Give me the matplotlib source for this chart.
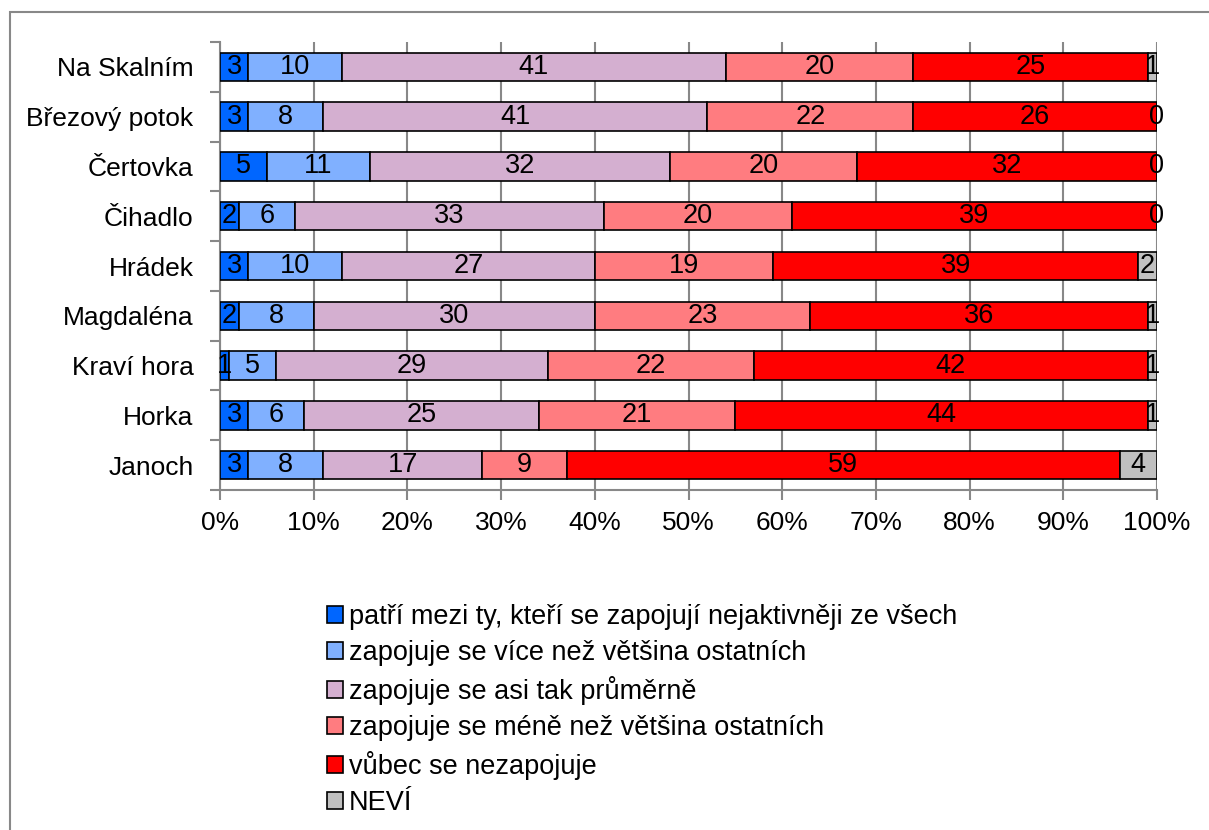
"""
Stacked 100 % bar chart of how actively each locality takes part.
"""
import numpy as np
import matplotlib.pyplot as plt
from matplotlib.patches import Rectangle

plt.rcParams['font.family'] = ['Liberation Sans', 'DejaVu Sans']

localities = ['Na Skalním', 'Březový potok', 'Čertovka', 'Čihadlo', 'Hrádek',
              'Magdaléna', 'Kraví hora', 'Horka', 'Janoch']
answers = ['patří mezi ty, kteří se zapojují nejaktivněji ze všech',
           'zapojuje se více než většina ostatních',
           'zapojuje se asi tak průměrně',
           'zapojuje se méně než většina ostatních',
           'vůbec se nezapojuje',
           'NEVÍ']
most_active = [3, 3, 5, 2, 3, 2, 1, 3, 3]
more_than_most = [10, 8, 11, 6, 10, 8, 5, 6, 8]
average = [41, 41, 32, 33, 27, 30, 29, 25, 17]
less_than_most = [20, 22, 20, 20, 19, 23, 22, 21, 9]
not_at_all = [25, 26, 32, 39, 39, 36, 42, 44, 59]
dont_know = [1, 0, 0, 0, 2, 1, 1, 1, 4]
colors = ['#0066FF', '#80B0FF', '#D4AFD0', '#FF7C80', '#FF0000', '#C0C0C0']

series = [most_active, more_than_most, average, less_than_most, not_at_all, dont_know]

fig = plt.figure(figsize=(12.09, 8.30), dpi=100)
# outer chart frame
fig.patches.append(Rectangle((10 / 1209, -0.1), 1.2, 1 - 12 / 830 + 0.1,
                             transform=fig.transFigure, fill=False,
                             edgecolor='#888888', linewidth=1.5))
ax = fig.add_axes([220 / 1209, 1 - 490 / 830, 937 / 1209, 448 / 830])

y = np.arange(len(localities))[::-1]
left = np.zeros(len(localities))
for vals, color, name in zip(series, colors, answers):
    vals = np.array(vals, dtype=float)
    ax.barh(y, vals, left=left, height=0.57, color=color, edgecolor='black',
            linewidth=1.2, label=name, zorder=3)
    for yi, l, v in zip(y, left, vals):
        ax.text(l + v / 2, yi, f'{v:g}', ha='center', va='center',
                fontsize=19.5, color='black', zorder=4)
    left += vals

ax.set_xlim(0, 100)
ax.set_ylim(-0.5, len(localities) - 0.5)
ax.set_xticks(np.arange(0, 101, 10))
ax.set_xticklabels([f'{v}%' for v in range(0, 101, 10)], fontsize=19)
ax.set_yticks(y)
ax.set_yticklabels(localities, fontsize=19)
ax.set_yticks(np.arange(-0.5, len(localities), 1), minor=True)
ax.tick_params(axis='y', which='major', length=0, pad=19)
ax.tick_params(axis='y', which='minor', length=7, color='#888888', width=1.5)
ax.tick_params(axis='x', length=7, color='#888888', width=1.5, pad=8)
ax.grid(axis='x', color='#888888', linewidth=1.5, zorder=0)
for side in ['top', 'right']:
    ax.spines[side].set_visible(False)
for side in ['left', 'bottom']:
    ax.spines[side].set_color('#888888')
    ax.spines[side].set_linewidth(1.5)

fig.legend(loc='upper left', bbox_to_anchor=(316 / 1209, 1 - 593 / 830),
           frameon=False, fontsize=19.5, handlelength=0.6, handleheight=0.6,
           handletextpad=0.2, labelspacing=0.37, borderaxespad=0)

fig.savefig('out.png', dpi=100)
